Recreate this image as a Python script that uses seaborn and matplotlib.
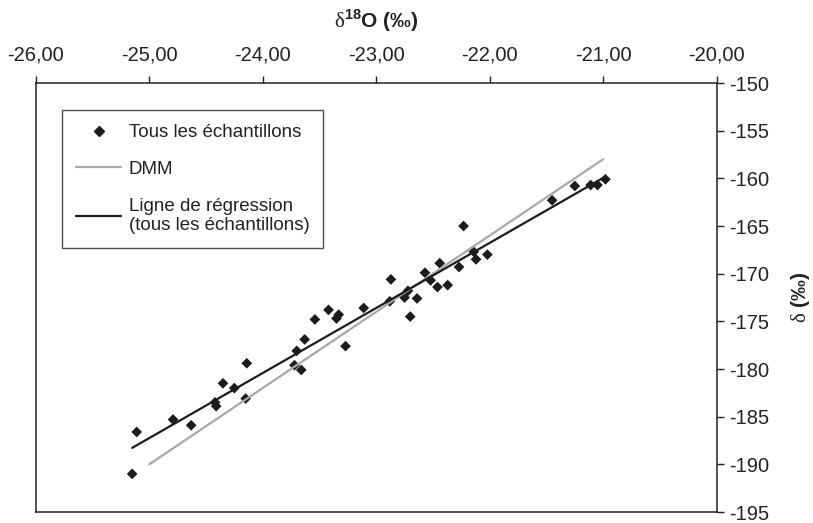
import numpy as np
import pandas as pd
import matplotlib
matplotlib.use("Agg")
import matplotlib.pyplot as plt
import seaborn as sns
from matplotlib.ticker import FuncFormatter, MultipleLocator
from matplotlib.lines import Line2D

# data
d18o = [-25.15, -25.11, -24.79, -24.63, -24.42, -24.41, -24.35, -24.25, -24.15, -24.14,
        -23.70, -23.72, -23.66, -23.63, -23.54, -23.42, -23.33, -23.35, -23.27, -23.11,
        -22.88, -22.87, -22.75, -22.72, -22.64, -22.70, -22.57, -22.52, -22.46, -22.37,
        -22.44, -22.27, -22.23, -22.14, -22.12, -22.02, -21.45, -21.25, -21.11, -21.05,
        -20.98]
dD = [-191.0, -186.6, -185.3, -185.9, -183.5, -183.9, -181.5, -182.0, -183.1, -179.4,
      -178.1, -179.6, -180.1, -176.9, -174.8, -173.8, -174.3, -174.7, -177.6, -173.6,
      -172.9, -170.6, -172.5, -171.8, -172.6, -174.5, -169.9, -170.7, -171.4, -171.2,
      -168.9, -169.3, -165.0, -167.7, -168.5, -168.0, -162.3, -160.8, -160.7, -160.7,
      -160.1]

# DMM (droite météorique mondiale)
dmm_x = [-25.0, -21.0]
dmm_y = [-190.0, -158.0]

df = pd.DataFrame({"d18o": d18o, "dD": dD})
dmm = pd.DataFrame({"x": dmm_x, "y": dmm_y})

sns.set_style("white")
plt.rcParams["font.family"] = ["Liberation Sans", "DejaVu Sans"]
plt.rcParams["mathtext.fontset"] = "custom"
plt.rcParams["mathtext.rm"] = "Liberation Serif"
plt.rcParams["mathtext.bf"] = "Liberation Sans:bold"

fig = plt.figure(figsize=(8.13, 5.23), dpi=100)
ax = fig.add_axes([0.0439, 0.021, 0.8376, 0.8203])

pt_col = "#1c1c1c"
txt_col = "#222222"
sns.lineplot(data=dmm, x="x", y="y", color="#a8a8a8", lw=1.6, ax=ax)
sns.regplot(data=df, x="d18o", y="dD", scatter=False, ci=None, truncate=True,
            color=pt_col, line_kws={"lw": 1.6}, ax=ax)
sns.scatterplot(data=df, x="d18o", y="dD", marker="D", s=30, color=pt_col,
                edgecolor="none", ax=ax)

ax.set_xlim(-26, -20)
ax.set_ylim(-195, -150)
ax.xaxis.set_major_locator(MultipleLocator(1))
ax.yaxis.set_major_locator(MultipleLocator(5))
ax.xaxis.set_major_formatter(FuncFormatter(lambda v, p: f"{v:.2f}".replace(".", ",")))
ax.yaxis.set_major_formatter(FuncFormatter(lambda v, p: f"{v:.0f}"))

ax.xaxis.tick_top()
ax.xaxis.set_label_position("top")
ax.yaxis.tick_right()
ax.yaxis.set_label_position("right")
ax.tick_params(axis="both", direction="out", length=5, width=1, color=txt_col,
               labelsize=14.5, pad=4, labelcolor=txt_col)
ax.tick_params(axis="x", pad=8)

for s in ax.spines.values():
    s.set_visible(True)
    s.set_color(txt_col)
    s.set_linewidth(1.1)

ax.set_xlabel(r"$\mathrm{\delta}^{\mathbf{18}}$O (‰)", fontsize=15, fontweight="bold",
              color=txt_col, labelpad=13)
ax.set_ylabel(r"$\mathrm{\delta}$ (‰)", fontsize=15, fontweight="bold", color=txt_col,
              labelpad=14, rotation=90)

handles = [
    Line2D([], [], ls="none", marker="D", ms=5, color=pt_col),
    Line2D([], [], color="#a8a8a8", lw=1.6),
    Line2D([], [], color=pt_col, lw=1.6),
]
labels = ["Tous les échantillons", "DMM", "Ligne de régression\n(tous les échantillons)"]
leg = ax.legend(handles, labels, loc="upper left", bbox_to_anchor=(0.0386, 0.937),
                borderaxespad=0, fontsize=13.5, frameon=True, fancybox=False,
                edgecolor=txt_col, handlelength=2.4, handletextpad=0.4,
                labelspacing=1.05, borderpad=0.75)
leg.get_frame().set_linewidth(1.0)
for t in leg.get_texts():
    t.set_color(txt_col)

fig.savefig("out.png", dpi=100)
